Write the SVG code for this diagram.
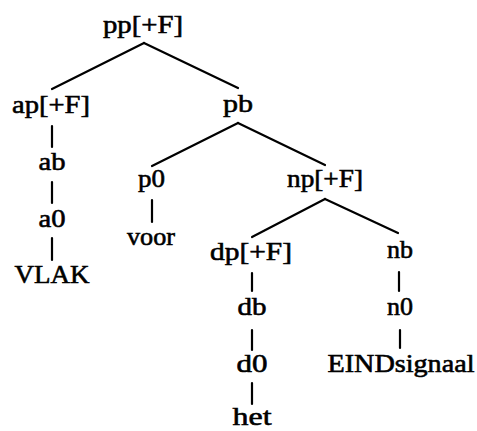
<svg xmlns="http://www.w3.org/2000/svg" width="477" height="431" viewBox="0 0 477 431">
  <style>
    .lbl { font-family: "Liberation Serif", "DejaVu Serif", serif; font-size: 26px; fill: #000; text-anchor: middle; stroke: #000; stroke-width: 0.6; }
    .edge { stroke: #000; stroke-width: 2.2; fill: none; stroke-linecap: round; }
  </style>
  <rect width="477" height="431" fill="#fff"/>

  <!-- tree edges -->
  <g id="connectors">
    <line class="edge" x1="144" y1="43" x2="52" y2="89"/>
    <line class="edge" x1="144" y1="43" x2="238" y2="88"/>
    <line class="edge" x1="52" y1="126" x2="52" y2="147"/>
    <line class="edge" x1="238" y1="123" x2="152" y2="166"/>
    <line class="edge" x1="238" y1="123" x2="325" y2="165"/>
    <line class="edge" x1="52" y1="182" x2="52" y2="203"/>
    <line class="edge" x1="52" y1="238" x2="52" y2="260"/>
    <line class="edge" x1="152" y1="200" x2="152" y2="222"/>
    <line class="edge" x1="325" y1="199" x2="252" y2="237"/>
    <line class="edge" x1="325" y1="199" x2="398" y2="233"/>
    <line class="edge" x1="252" y1="273" x2="252" y2="291"/>
    <line class="edge" x1="399" y1="272" x2="399" y2="291"/>
    <line class="edge" x1="252" y1="330" x2="252" y2="350"/>
    <line class="edge" x1="400" y1="330" x2="400" y2="348"/>
    <line class="edge" x1="252" y1="383" x2="252" y2="404"/>
  </g>

  <!-- tree nodes -->
  <g id="pp"><text class="lbl" x="143" y="33" textLength="80" lengthAdjust="spacingAndGlyphs">pp[+F]</text></g>
  <g id="ap"><text class="lbl" x="51" y="113" textLength="78" lengthAdjust="spacingAndGlyphs">ap[+F]</text></g>
  <g id="pb"><text class="lbl" x="238" y="112" textLength="30" lengthAdjust="spacingAndGlyphs">pb</text></g>
  <g id="ab"><text class="lbl" x="52" y="170" textLength="27" lengthAdjust="spacingAndGlyphs">ab</text></g>
  <g id="a0"><text class="lbl" x="52" y="227" textLength="27" lengthAdjust="spacingAndGlyphs">a0</text></g>
  <g id="vlak"><text class="lbl" x="52" y="283" textLength="75" lengthAdjust="spacingAndGlyphs">VLAK</text></g>
  <g id="p0"><text class="lbl" x="151.5" y="187" textLength="27" lengthAdjust="spacingAndGlyphs">p0</text></g>
  <g id="voor"><text class="lbl" x="151" y="245" textLength="48" lengthAdjust="spacingAndGlyphs">voor</text></g>
  <g id="np"><text class="lbl" x="325" y="187" textLength="76" lengthAdjust="spacingAndGlyphs">np[+F]</text></g>
  <g id="dp"><text class="lbl" x="251" y="260" textLength="82" lengthAdjust="spacingAndGlyphs">dp[+F]</text></g>
  <g id="nb"><text class="lbl" x="400" y="258" textLength="26" lengthAdjust="spacingAndGlyphs">nb</text></g>
  <g id="db"><text class="lbl" x="252" y="315" textLength="29" lengthAdjust="spacingAndGlyphs">db</text></g>
  <g id="n0"><text class="lbl" x="400" y="315" textLength="26" lengthAdjust="spacingAndGlyphs">n0</text></g>
  <g id="d0"><text class="lbl" x="252" y="372" textLength="31" lengthAdjust="spacingAndGlyphs">d0</text></g>
  <g id="eindsignaal"><text class="lbl" x="401" y="372" textLength="147" lengthAdjust="spacingAndGlyphs">EINDsignaal</text></g>
  <g id="het"><text class="lbl" x="252" y="425" textLength="39" lengthAdjust="spacingAndGlyphs">het</text></g>
</svg>
